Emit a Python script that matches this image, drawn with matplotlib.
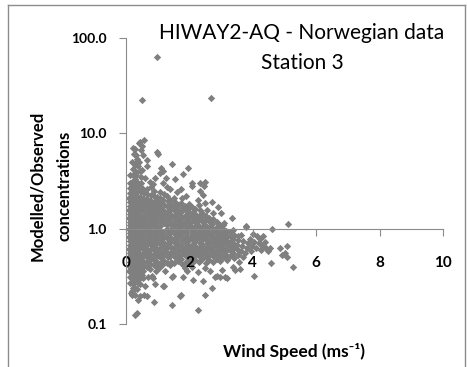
import matplotlib
matplotlib.use("Agg")
import matplotlib.pyplot as plt
from matplotlib.lines import Line2D
from matplotlib.ticker import NullLocator

# (wind speed m/s, modelled/observed ratio), by region
outliers = [(0.97, 63.0), (0.49, 22.0), (2.67, 23.5)]

upper_calm = [(0.40, 7.8), (0.44, 8.0), (0.49, 7.4), (0.58, 8.5), (0.23, 7.0),
              (0.28, 6.8), (0.30, 5.9), (0.54, 5.9), (0.28, 4.9), (0.50, 4.1),
              (0.60, 3.4), (0.65, 5.2), (0.36, 5.4), (0.20, 5.0), (0.13, 3.6),
              (0.38, 4.5), (0.31, 3.6), (0.21, 2.6), (0.48, 3.0), (0.55, 2.6),
              (0.47, 6.6), (0.26, 6.1), (0.42, 5.0)]

upper_windy = [(0.97, 6.3), (1.01, 6.0), (1.46, 4.8), (1.97, 4.35), (1.10, 4.3),
               (1.16, 4.0), (1.07, 3.85), (0.65, 4.5), (1.80, 3.7), (1.55, 3.3),
               (1.17, 3.0), (2.07, 3.0), (2.09, 2.8), (2.33, 3.0), (2.49, 3.05),
               (2.46, 2.8), (2.33, 2.45), (2.43, 2.27), (2.27, 2.0), (2.50, 1.87),
               (0.75, 3.1), (0.85, 2.9), (1.30, 2.7), (1.40, 2.6), (1.60, 2.4),
               (1.75, 2.6), (0.90, 3.4), (0.80, 2.75), (1.25, 3.4), (1.90, 2.2),
               (2.70, 1.9), (2.90, 1.7), (3.00, 1.47), (3.33, 1.29), (3.10, 1.15),
               (3.80, 1.06), (2.97, 1.10)]

core_calm = [
    (0.12, 0.27), (0.13, 0.31), (0.11, 0.36), (0.12, 0.40), (0.14, 0.45), (0.11, 0.50),
    (0.13, 0.55), (0.11, 0.61), (0.12, 0.67), (0.14, 0.74), (0.11, 0.81), (0.13, 0.89),
    (0.11, 0.98), (0.12, 1.08), (0.14, 1.18), (0.11, 1.30), (0.13, 1.43), (0.11, 1.57),
    (0.12, 1.73), (0.14, 1.90), (0.11, 2.10), (0.13, 2.35), (0.12, 2.65), (0.14, 3.00),
    (0.19, 0.22), (0.21, 0.26), (0.18, 0.30), (0.20, 0.34), (0.22, 0.38), (0.19, 0.42),
    (0.21, 0.47), (0.18, 0.52), (0.20, 0.57), (0.22, 0.63), (0.19, 0.69), (0.21, 0.76),
    (0.18, 0.84), (0.20, 0.92), (0.22, 1.01), (0.19, 1.11), (0.21, 1.22), (0.18, 1.34),
    (0.20, 1.47), (0.22, 1.62), (0.19, 1.78), (0.21, 1.96), (0.18, 2.15), (0.20, 2.40),
    (0.22, 2.70), (0.19, 3.10), (0.21, 3.60), (0.23, 4.20),
    (0.27, 0.20), (0.29, 0.24), (0.26, 0.28), (0.28, 0.32), (0.30, 0.36), (0.27, 0.40),
    (0.29, 0.44), (0.26, 0.49), (0.28, 0.54), (0.30, 0.60), (0.27, 0.66), (0.29, 0.72),
    (0.26, 0.79), (0.28, 0.87), (0.30, 0.96), (0.27, 1.05), (0.29, 1.16), (0.26, 1.27),
    (0.28, 1.40), (0.30, 1.54), (0.27, 1.69), (0.29, 1.86), (0.26, 2.05), (0.28, 2.30),
    (0.30, 2.55), (0.27, 2.90), (0.29, 3.30), (0.31, 3.90), (0.28, 4.60),
    (0.35, 0.23), (0.37, 0.27), (0.34, 0.31), (0.36, 0.35), (0.38, 0.39), (0.35, 0.43),
    (0.37, 0.48), (0.34, 0.53), (0.36, 0.58), (0.38, 0.64), (0.35, 0.70), (0.37, 0.77),
    (0.34, 0.85), (0.36, 0.93), (0.38, 1.03), (0.35, 1.13), (0.37, 1.24), (0.34, 1.37),
    (0.36, 1.50), (0.38, 1.65), (0.35, 1.82), (0.37, 2.00), (0.34, 2.20), (0.36, 2.45),
    (0.38, 2.75), (0.35, 3.10),
    (0.43, 0.26), (0.45, 0.30), (0.42, 0.34), (0.44, 0.38), (0.46, 0.42), (0.43, 0.46),
    (0.45, 0.51), (0.42, 0.56), (0.44, 0.62), (0.46, 0.68), (0.43, 0.75), (0.45, 0.82),
    (0.42, 0.90), (0.44, 0.99), (0.46, 1.09), (0.43, 1.20), (0.45, 1.32), (0.42, 1.45),
    (0.44, 1.60), (0.46, 1.76), (0.43, 1.94), (0.45, 2.15), (0.47, 2.40), (0.43, 2.80),
    (0.46, 3.50), (0.44, 4.00)]

core_light = [
    (0.55, 0.36), (0.56, 0.41), (0.54, 0.46), (0.55, 0.51), (0.57, 0.57), (0.54, 0.63),
    (0.56, 0.70), (0.55, 0.77), (0.53, 0.85), (0.56, 0.94), (0.55, 1.04), (0.57, 1.15),
    (0.54, 1.27), (0.56, 1.40), (0.55, 1.55), (0.53, 1.72), (0.56, 1.90), (0.55, 2.10),
    (0.57, 2.35),
    (0.66, 0.40), (0.65, 0.45), (0.67, 0.50), (0.66, 0.56), (0.64, 0.62), (0.67, 0.69),
    (0.65, 0.76), (0.66, 0.84), (0.68, 0.93), (0.65, 1.02), (0.66, 1.13), (0.64, 1.25),
    (0.67, 1.38), (0.65, 1.52), (0.66, 1.68), (0.68, 1.86), (0.65, 2.05), (0.67, 2.30),
    (0.66, 2.60),
    (0.77, 0.38), (0.76, 0.43), (0.78, 0.48), (0.77, 0.54), (0.75, 0.60), (0.78, 0.67),
    (0.76, 0.74), (0.77, 0.82), (0.79, 0.91), (0.76, 1.00), (0.77, 1.11), (0.75, 1.23),
    (0.78, 1.36), (0.76, 1.50), (0.77, 1.65), (0.79, 1.83), (0.76, 2.00), (0.78, 2.25),
    (0.88, 0.42), (0.87, 0.47), (0.89, 0.53), (0.88, 0.59), (0.86, 0.65), (0.89, 0.72),
    (0.87, 0.80), (0.88, 0.88), (0.90, 0.97), (0.87, 1.07), (0.88, 1.18), (0.86, 1.31),
    (0.89, 1.45), (0.87, 1.60), (0.88, 1.77), (0.90, 1.95), (0.87, 2.20), (0.89, 2.50),
    (0.98, 0.40), (0.97, 0.45), (0.99, 0.51), (0.98, 0.57), (0.96, 0.63), (0.99, 0.70),
    (0.97, 0.78), (0.98, 0.86), (1.00, 0.95), (0.97, 1.05), (0.98, 1.16), (0.96, 1.28),
    (0.99, 1.42), (0.97, 1.57), (0.98, 1.74), (1.00, 1.92), (0.97, 2.15)]

core_moderate = [
    (1.08, 0.43), (1.09, 0.49), (1.07, 0.55), (1.08, 0.62), (1.10, 0.69), (1.07, 0.77),
    (1.09, 0.86), (1.08, 0.96), (1.06, 1.07), (1.09, 1.19), (1.08, 1.33), (1.10, 1.48),
    (1.07, 1.65), (1.09, 1.85), (1.08, 2.10), (1.06, 2.40),
    (1.19, 0.46), (1.18, 0.52), (1.20, 0.58), (1.19, 0.65), (1.17, 0.73), (1.20, 0.82),
    (1.18, 0.91), (1.21, 1.14), (1.18, 1.27), (1.19, 1.42), (1.17, 1.58), (1.20, 1.77),
    (1.18, 2.00), (1.19, 2.30),
    (1.30, 0.44), (1.31, 0.50), (1.29, 0.56), (1.30, 0.63), (1.32, 0.70), (1.29, 0.79),
    (1.31, 0.88), (1.30, 0.98), (1.28, 1.10), (1.31, 1.23), (1.30, 1.37), (1.32, 1.53),
    (1.29, 1.72), (1.31, 1.95), (1.30, 2.20),
    (1.41, 0.45), (1.40, 0.51), (1.42, 0.57), (1.41, 0.64), (1.39, 0.72), (1.42, 0.80),
    (1.40, 0.90), (1.41, 1.00), (1.43, 1.12), (1.40, 1.25), (1.41, 1.40), (1.39, 1.56),
    (1.42, 1.75), (1.40, 2.00),
    (1.52, 0.44), (1.53, 0.50), (1.51, 0.56), (1.52, 0.62), (1.54, 0.70), (1.51, 0.78),
    (1.53, 0.87), (1.52, 0.97), (1.50, 1.08), (1.53, 1.21), (1.52, 1.35), (1.54, 1.51),
    (1.51, 1.69), (1.53, 1.90), (1.52, 2.10),
    (1.64, 0.46), (1.63, 0.52), (1.65, 0.58), (1.64, 0.65), (1.62, 0.73), (1.65, 0.81),
    (1.63, 0.91), (1.64, 1.01), (1.66, 1.13), (1.63, 1.26), (1.64, 1.41), (1.62, 1.58),
    (1.65, 1.77),
    (1.76, 0.43), (1.75, 0.48), (1.77, 0.54), (1.76, 0.61), (1.74, 0.68), (1.77, 0.76),
    (1.75, 0.85), (1.76, 0.95), (1.78, 1.06), (1.75, 1.18), (1.76, 1.32), (1.74, 1.48),
    (1.77, 1.65), (1.75, 1.85), (1.76, 2.10),
    (1.88, 0.45), (1.89, 0.51), (1.87, 0.57), (1.88, 0.64), (1.90, 0.71), (1.87, 0.80),
    (1.89, 0.89), (1.88, 0.99), (1.86, 1.11), (1.89, 1.24), (1.88, 1.39), (1.90, 1.55),
    (1.87, 1.73),
    (1.98, 0.47), (1.97, 0.53), (1.99, 0.59), (1.98, 0.66), (1.96, 0.74), (1.99, 0.83),
    (1.97, 0.92), (1.98, 1.03), (2.00, 1.15), (1.97, 1.29), (1.98, 1.44), (1.96, 1.61),
    (1.99, 1.80)]

core_fresh = [
    (2.08, 0.44), (2.09, 0.50), (2.07, 0.56), (2.08, 0.62), (2.10, 0.69), (2.07, 0.77),
    (2.09, 0.86), (2.08, 0.96), (2.06, 1.07), (2.09, 1.20), (2.08, 1.34), (2.10, 1.50),
    (2.07, 1.70),
    (2.19, 0.47), (2.18, 0.53), (2.20, 0.59), (2.19, 0.66), (2.17, 0.74), (2.20, 0.82),
    (2.18, 0.92), (2.19, 1.03), (2.21, 1.15), (2.18, 1.28), (2.19, 1.43), (2.17, 1.60),
    (2.30, 0.45), (2.31, 0.51), (2.29, 0.57), (2.30, 0.63), (2.32, 0.71), (2.29, 0.79),
    (2.31, 0.88), (2.30, 0.98), (2.28, 1.10), (2.31, 1.23), (2.30, 1.37), (2.32, 1.55),
    (2.29, 1.75),
    (2.41, 0.48), (2.40, 0.54), (2.42, 0.60), (2.41, 0.67), (2.39, 0.75), (2.42, 0.84),
    (2.40, 0.94), (2.41, 1.05), (2.43, 1.17), (2.40, 1.31), (2.41, 1.47),
    (2.52, 0.44), (2.53, 0.50), (2.51, 0.56), (2.52, 0.63), (2.54, 0.70), (2.51, 0.78),
    (2.53, 0.87), (2.52, 0.97), (2.50, 1.09), (2.53, 1.22), (2.52, 1.37), (2.54, 1.55),
    (2.63, 0.47), (2.62, 0.53), (2.64, 0.59), (2.63, 0.66), (2.61, 0.74), (2.64, 0.83),
    (2.62, 0.93), (2.63, 1.04), (2.65, 1.16), (2.62, 1.30),
    (2.74, 0.45), (2.75, 0.51), (2.73, 0.57), (2.74, 0.64), (2.76, 0.71), (2.73, 0.80),
    (2.75, 0.89), (2.74, 1.00), (2.72, 1.12), (2.75, 1.26), (2.74, 1.45),
    (2.86, 0.48), (2.85, 0.54), (2.87, 0.60), (2.86, 0.67), (2.84, 0.75), (2.87, 0.84),
    (2.85, 0.94), (2.86, 1.05), (2.88, 1.18),
    (2.96, 0.46), (2.97, 0.52), (2.95, 0.58), (2.96, 0.65), (2.98, 0.72), (2.95, 0.81),
    (2.97, 0.90), (2.96, 1.01)]

core_strong = [
    (3.07, 0.50), (3.08, 0.56), (3.06, 0.62), (3.07, 0.70), (3.09, 0.78), (3.06, 0.87),
    (3.08, 0.97), (3.07, 1.08),
    (3.18, 0.47), (3.17, 0.53), (3.19, 0.60), (3.18, 0.67), (3.16, 0.75), (3.19, 0.84),
    (3.17, 0.94),
    (3.29, 0.52), (3.30, 0.58), (3.28, 0.65), (3.29, 0.73), (3.31, 0.82), (3.28, 0.92),
    (3.40, 0.49), (3.39, 0.55), (3.41, 0.62), (3.40, 0.69), (3.38, 0.77), (3.41, 0.86),
    (3.39, 0.96),
    (3.52, 0.53), (3.53, 0.60), (3.51, 0.67), (3.52, 0.75), (3.54, 0.84)]

tail = [(3.62, 0.58), (3.66, 0.66), (3.70, 0.74), (3.64, 0.85), (3.75, 0.55),
        (3.79, 1.03), (3.82, 0.62), (3.86, 0.70), (3.90, 0.78), (3.95, 0.58),
        (3.98, 0.66), (4.02, 0.87), (4.05, 0.72), (4.10, 0.62), (4.12, 0.83),
        (4.18, 0.70), (4.22, 0.78), (4.26, 0.60), (4.30, 0.66), (4.33, 0.83),
        (4.38, 0.72), (4.42, 0.62), (4.47, 0.58), (4.54, 0.63), (4.57, 0.44),
        (4.60, 1.00), (4.86, 0.62), (4.91, 0.53), (5.00, 0.55), (5.07, 0.65),
        (5.08, 0.50), (5.11, 1.13), (5.26, 0.40), (4.04, 0.32), (3.55, 0.45),
        (3.68, 0.50)]

low = [(0.34, 0.13), (0.39, 0.18), (0.18, 0.20), (0.57, 0.20), (0.44, 0.195),
       (0.65, 0.195), (0.60, 0.25), (0.88, 0.17), (0.86, 0.30), (0.81, 0.32),
       (0.91, 0.26), (1.17, 0.25), (1.21, 0.25), (1.13, 0.42), (1.23, 0.36),
       (1.39, 0.42), (1.46, 0.16), (1.44, 0.31), (1.49, 0.32), (1.70, 0.195),
       (1.74, 0.20), (1.80, 0.31), (1.86, 0.39), (1.91, 0.36), (2.07, 0.40),
       (2.12, 0.29), (2.27, 0.35), (2.28, 0.14), (2.42, 0.28), (2.50, 0.20),
       (2.50, 0.39), (2.65, 0.36), (2.70, 0.24), (2.80, 0.31), (2.86, 0.32),
       (2.97, 0.31), (3.02, 0.37), (3.12, 0.31), (3.18, 0.30), (3.39, 0.40),
       (3.44, 0.37), (3.60, 0.38), (0.22, 0.31), (0.34, 0.28), (0.40, 0.33),
       (0.50, 0.33), (0.55, 0.30), (0.70, 0.31), (0.28, 0.125), (0.22, 0.24),
       (0.15, 0.21), (0.96, 0.36), (1.05, 0.39)]

groups = [outliers, upper_calm, upper_windy, core_calm, core_light,
          core_moderate, core_fresh, core_strong, tail, low]

y_ticks = [0.1, 1, 10, 100]
y_ticklabels = ["0.1", "1.0", "10.0", "100.0"]
x_ticks = [0, 2, 4, 6, 8, 10]

plt.rcParams['font.family'] = ['Lato', 'DejaVu Sans']

W, H = 467, 367
fig = plt.figure(figsize=(W / 100, H / 100), dpi=100)
ax = fig.add_axes([126 / W, 1 - 324 / H, 317 / W, 286.3 / H])

ws = [p[0] for g in groups for p in g]
ratio = [p[1] for g in groups for p in g]
ax.scatter(ws, ratio, marker='D', s=14, c='#7f7f7f', linewidths=0)

ax.set_yscale('log')
ax.set_xlim(0, 10)
ax.set_ylim(0.1, 100)
ax.set_yticks(y_ticks)
ax.set_yticklabels(y_ticklabels)
ax.yaxis.set_minor_locator(NullLocator())
ax.set_xticks(x_ticks)

axis_col = '#8c8c8c'
for side in ['top', 'right']:
    ax.spines[side].set_visible(False)
ax.spines['bottom'].set_position(('data', 1))
ax.spines['left'].set_color(axis_col)
ax.spines['bottom'].set_color(axis_col)
ax.tick_params(axis='x', length=5, color=axis_col, pad=15, labelsize=11)
ax.tick_params(axis='y', length=5, color=axis_col, pad=9, labelsize=10)
for lab in ax.get_xticklabels() + ax.get_yticklabels():
    lab.set_fontweight('bold')

fig.text(302 / W, 1 - 33 / H, 'HIWAY2-AQ - Norwegian data', ha='center', va='center',
         fontsize=15)
fig.text(302 / W, 1 - 63 / H, 'Station 3', ha='center', va='center', fontsize=15)
fig.text(37 / W, 1 - 186 / H, 'Modelled/Observed', rotation=90, ha='center',
         va='center', fontsize=12, fontweight='bold')
fig.text(65 / W, 1 - 186 / H, 'concentrations', rotation=90, ha='center',
         va='center', fontsize=12, fontweight='bold')
fig.text(294 / W, 1 - 352 / H, 'Wind Speed (ms\u207b\u00b9)', ha='center', va='center',
         fontsize=12.5, fontweight='bold')

# chart frame
for xs, ys in [([8 / W, 8 / W], [0, 1 - 5 / H]),
               ([8 / W, 465 / W], [1 - 5 / H, 1 - 5 / H]),
               ([465 / W, 465 / W], [0, 1 - 5 / H])]:
    fig.add_artist(Line2D(xs, ys, color='#8c8c8c', lw=1))

fig.savefig('out.png', dpi=100)
